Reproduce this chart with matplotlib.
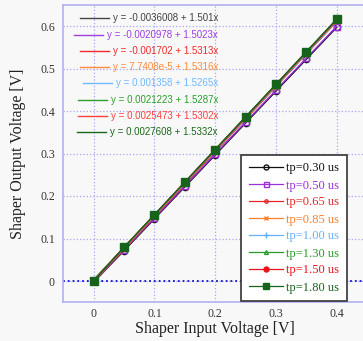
import matplotlib
matplotlib.use('Agg')
from matplotlib import pyplot as plt
import numpy as np

# input voltage sweep [V]
vin = [0.0, 0.05, 0.10, 0.15, 0.20, 0.25, 0.30, 0.35, 0.40]

# peaking times
tp_labels = ['tp=0.30 us', 'tp=0.50 us', 'tp=0.65 us', 'tp=0.85 us',
             'tp=1.00 us', 'tp=1.30 us', 'tp=1.50 us', 'tp=1.80 us']

# measured shaper output [V], one list per peaking time
vout_030 = [0.000, 0.0715, 0.1465, 0.2216, 0.2966, 0.3717, 0.4467, 0.5218, 0.5968]
vout_050 = [0.000, 0.0730, 0.1481, 0.2233, 0.2984, 0.3735, 0.4486, 0.5237, 0.5988]
vout_065 = [0.000, 0.0749, 0.1514, 0.2280, 0.3046, 0.3811, 0.4577, 0.5343, 0.6108]
vout_085 = [0.000, 0.0767, 0.1532, 0.2298, 0.3064, 0.3830, 0.4596, 0.5361, 0.6127]
vout_100 = [0.000, 0.0777, 0.1540, 0.2303, 0.3067, 0.3830, 0.4593, 0.5356, 0.6120]
vout_130 = [0.000, 0.0786, 0.1550, 0.2314, 0.3079, 0.3843, 0.4607, 0.5372, 0.6136]
vout_150 = [0.000, 0.0791, 0.1556, 0.2321, 0.3086, 0.3851, 0.4616, 0.5381, 0.6146]
vout_180 = [0.000, 0.0794, 0.1561, 0.2327, 0.3094, 0.3861, 0.4627, 0.5394, 0.6160]

# linear fit results y = a + b*x
fit_a = [-0.0036008, -0.0020978, -0.001702, 7.7408e-5,
         0.001358, 0.0021223, 0.0025473, 0.0027608]
fit_b = [1.501, 1.5023, 1.5313, 1.5316, 1.5265, 1.5287, 1.5302, 1.5332]
fit_text = ['y = -0.0036008 + 1.501x', 'y = -0.0020978 + 1.5023x',
            'y = -0.001702 + 1.5313x', 'y = 7.7408e-5 + 1.5316x',
            'y = 0.001358 + 1.5265x', 'y = 0.0021223 + 1.5287x',
            'y = 0.0025473 + 1.5302x', 'y = 0.0027608 + 1.5332x']

vout = [vout_030, vout_050, vout_065, vout_085, vout_100, vout_130, vout_150, vout_180]

colors = ['#111111', '#9a30d8', '#e8242c', '#ff7f2a',
          '#66b0ff', '#2a9a2a', '#e8141c', '#16641c']
fit_colors = ['#444444', '#a040e0', '#ee2a2a', '#ff8a3c',
              '#70b8ff', '#2e9e2e', '#ff4040', '#1a6a1a']
markers = ['o', 's', 'o', 'x', '+', '^', 'o', 's']
msizes = [4.5, 4.5, 3, 4, 5, 3.5, 4.5, 5.5]
mfaces = ['none', 'none', 'none', 'none', 'none', 'none', '#e8141c', '#16641c']

bg = '#f8f8f8'
W, H = 363, 341
fig = plt.figure(figsize=(W / 100, H / 100), dpi=100, facecolor=bg)
ax = fig.add_axes([63.3 / W, 38.75 / H, 303.7 / W, 297.5 / H], facecolor=bg)

xfit = np.array([0.0, 0.4])
for a, b, c in zip(fit_a, fit_b, fit_colors):
    ax.plot(xfit, a + b * xfit, color=c, lw=0.9, zorder=2)

handles = []
for y, c, m, ms, mf, lab in zip(vout, colors, markers, msizes, mfaces, tp_labels):
    h, = ax.plot(vin, y, color=c, lw=0.9, marker=m, ms=ms, mfc=mf, mec=c,
                 mew=1.0, label=lab, zorder=3)
    handles.append(h)

ax.axhline(0, color='#1010d0', lw=1.3, ls=':', zorder=1)

ax.set_xlim(-0.05, 0.45)
ax.set_ylim(-0.05, 0.65)
ax.set_xticks([0, 0.1, 0.2, 0.3, 0.4])
ax.set_xticklabels(['0', '0.1', '0.2', '0.3', '0.4'])
ax.set_yticks([0, 0.1, 0.2, 0.3, 0.4, 0.5, 0.6])
ax.set_yticklabels(['0', '0.1', '0.2', '0.3', '0.4', '0.5', '0.6'])
ax.grid(True, color='#a8a8f0', ls=':', lw=0.9)
ax.set_axisbelow(True)
ax.tick_params(axis='x', length=0, labelsize=8.5, labelcolor='#333333', pad=4)
ax.tick_params(axis='y', length=0, labelsize=8.5, labelcolor='#333333', pad=6)
for lab in ax.get_xticklabels() + ax.get_yticklabels():
    lab.set_family('Liberation Serif')
for s in ['left', 'bottom', 'top']:
    ax.spines[s].set_color('#b0b0f0')
    ax.spines[s].set_linewidth(1.2)
ax.spines['right'].set_visible(False)

ax.set_xlabel('Shaper Input Voltage [V]', family='Liberation Serif',
              fontsize=11.5, color='#222222', labelpad=1)
ax.set_ylabel('Shaper Output Voltage [V]', family='Liberation Serif',
              fontsize=11.5, color='#222222', labelpad=10)

# fit equations, top left: text right-aligned, short line just before each text
to_ax = lambda px, py: ((px - 63.3) / 303.7, (302.25 - py) / 297.5)
renderer = fig.canvas.get_renderer()
for i, (t, c) in enumerate(zip(fit_text, fit_colors)):
    py = 18.3 + i * 16.3
    tx, ty = to_ax(218, py)
    txt = ax.text(tx, ty, t, transform=ax.transAxes, ha='right', va='center',
                  color=c, fontsize=7.0, family='Liberation Sans', zorder=5)
    x_start = txt.get_window_extent(renderer).x0  # in display pixels
    x0, _ = to_ax(x_start - 33, py)
    x1, _ = to_ax(x_start - 4, py)
    ax.plot([x0, x1], [ty, ty], transform=ax.transAxes, color=c, lw=1.0,
            clip_on=False, zorder=5)

lx, ly = to_ax(347, 301)
leg = ax.legend(handles=handles, loc='lower right', bbox_to_anchor=(lx, ly),
                borderaxespad=0, prop={'family': 'Liberation Serif', 'size': 9},
                frameon=True, fancybox=False, framealpha=1, facecolor='white',
                edgecolor='#333333', handlelength=2.7, handletextpad=0.3,
                labelspacing=0.4, borderpad=0.6, markerscale=0.8)
leg.get_frame().set_linewidth(1.2)
for t, c in zip(leg.get_texts(), colors):
    t.set_color(c)

plt.savefig('out.png', dpi=100, facecolor=bg)
